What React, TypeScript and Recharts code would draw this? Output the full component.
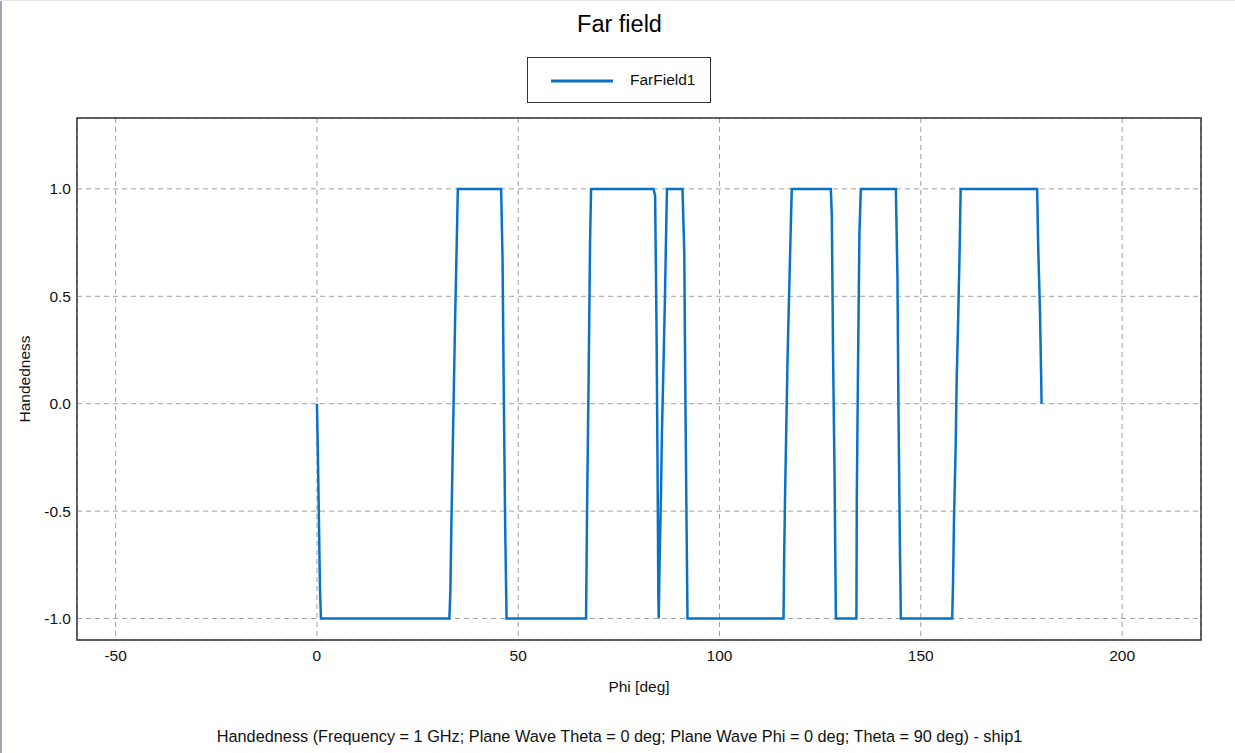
import React from 'react';
import {
  LineChart,
  Line,
  XAxis,
  YAxis,
  CartesianGrid,
  Legend,
  ReferenceArea,
} from 'recharts';

// Phi samples (deg) and handedness
const phiDeg = [
  0, 0.25, 0.5, 0.75, 1,
  32.9, 33.15, 33.4, 33.7, 34.0, 34.3, 34.65, 35.0,
  45.75, 46.1, 46.4, 46.75, 47.1,
  66.85, 67.1, 67.5, 67.85, 68.1,
  83.6, 84.0, 84.35, 84.6, 84.8, 84.9, 85.1, 85.45, 85.7, 86.1, 86.45, 86.75, 86.95,
  90.8, 91.25, 91.5, 91.8, 92.05,
  115.9, 116.05, 116.3, 116.6, 116.9, 117.3, 117.7, 117.95,
  127.65, 127.9, 128.2, 128.6, 128.9,
  134.0, 134.1, 134.4, 134.75, 135.1,
  143.8, 144.2, 144.45, 144.8, 145.05,
  157.8, 158.0, 158.25, 158.65, 158.9, 159.3, 159.65, 159.9,
  178.9, 179.15, 179.6, 179.9, 180,
];

const handedness = [
  0, -0.25, -0.55, -0.86, -1,
  -1, -0.87, -0.56, -0.25, 0.06, 0.37, 0.68, 1,
  1, 0.68, 0.07, -0.56, -1,
  -1, -0.49, 0.14, 0.76, 1,
  1, 0.97, 0.36, -0.27, -0.88, -1, -0.75, -0.43, -0.13, 0.19, 0.5, 0.81, 1,
  1, 0.7, 0.08, -0.54, -1,
  -1, -0.72, -0.41, -0.1, 0.21, 0.52, 0.82, 1,
  1, 0.87, 0.24, -0.38, -1,
  -1, -0.45, 0.17, 0.79, 1,
  1, 0.59, -0.03, -0.65, -1,
  -1, -0.84, -0.53, -0.21, 0.1, 0.41, 0.72, 1,
  1, 0.74, 0.43, 0.12, 0,
];

const xTicks = [-50, 0, 50, 100, 150, 200];
const yTicks = [-1, -0.5, 0, 0.5, 1];
const xDomain = [-59.6, 219.6];
const yDomain = [-1.1, 1.33];

const data = phiDeg.map((phi, i) => ({ phi, FarField1: handedness[i] }));

const FONT = '"Liberation Sans", Arial, sans-serif';
const LINE_COLOR = '#0a72c6';

const renderLegend = (props: any) => {
  const item = props.payload && props.payload[0];
  return (
    <div
      style={{
        width: 184,
        height: 46,
        boxSizing: 'border-box',
        border: '1.5px solid #333',
        background: '#fff',
        position: 'relative',
        fontFamily: FONT,
      }}
    >
      <svg width={70} height={10} style={{ position: 'absolute', left: 22, top: 18 }}>
        <line x1={1} y1={5} x2={63} y2={5} stroke={item ? item.color : LINE_COLOR} strokeWidth={3} />
      </svg>
      <span
        style={{
          position: 'absolute',
          left: 102,
          top: 13,
          fontSize: 15.5,
          color: '#111',
          lineHeight: '18px',
        }}
      >
        {item ? item.value : 'FarField1'}
      </span>
    </div>
  );
};

export default function App() {
  return (
    <div
      style={{
        position: 'absolute',
        left: 0,
        top: 0,
        width: 1235,
        height: 753,
        background: '#fff',
        fontFamily: FONT,
        overflow: 'hidden',
      }}
    >
      <div style={{ position: 'absolute', left: 0, top: 0, width: 2, height: 753, background: '#a3a3b4' }} />
      <div style={{ position: 'absolute', left: 0, top: 0, width: 1235, height: 1, background: '#e6e6e6' }} />
      <div
        style={{
          position: 'absolute',
          left: 0,
          top: 13,
          width: 1239,
          textAlign: 'center',
          fontSize: 23.5,
          lineHeight: '23px',
          color: '#000',
        }}
      >
        Far field
      </div>

      <LineChart
        width={1235}
        height={753}
        data={data}
        margin={{ top: 118, right: 34, bottom: 53, left: 17 }}
        style={{ position: 'absolute', left: 0, top: 0 }}
      >
        <CartesianGrid stroke="#a0a0a0" strokeDasharray="5 4" strokeWidth={1} />
        <XAxis
          dataKey="phi"
          type="number"
          domain={xDomain}
          ticks={xTicks}
          allowDataOverflow
          axisLine={false}
          tickLine={false}
          tickSize={0}
          tickMargin={10}
          height={60}
          tick={{ fill: '#111', fontSize: 15.5, fontFamily: FONT }}
          label={{
            value: 'Phi [deg]',
            position: 'insideBottom',
            offset: 8,
            fill: '#111',
            fontSize: 15.5,
            fontFamily: FONT,
          }}
        />
        <YAxis
          type="number"
          domain={yDomain}
          ticks={yTicks}
          allowDataOverflow
          axisLine={false}
          tickLine={false}
          tickSize={0}
          tickMargin={6}
          width={60}
          tickFormatter={(v: number) => v.toFixed(1)}
          tick={{ fill: '#111', fontSize: 15.5, fontFamily: FONT }}
          label={{
            value: 'Handedness',
            angle: -90,
            position: 'center',
            dx: -23,
            fill: '#111',
            fontSize: 15.5,
            fontFamily: FONT,
          }}
        />
        <Legend
          layout="horizontal"
          verticalAlign="middle"
          align="center"
          content={renderLegend}
          wrapperStyle={{ left: 527, top: 57, width: 184, height: 46 }}
        />
        <Line
          type="linear"
          dataKey="FarField1"
          stroke={LINE_COLOR}
          strokeWidth={2.5}
          dot={false}
          activeDot={false}
          isAnimationActive={false}
        />
        <ReferenceArea
          x1={xDomain[0]}
          x2={xDomain[1]}
          y1={yDomain[0]}
          y2={yDomain[1]}
          fill="none"
          stroke="#333"
          strokeWidth={1.5}
          ifOverflow="visible"
        />
      </LineChart>

      <div
        style={{
          position: 'absolute',
          left: 0,
          top: 728,
          width: 1239,
          textAlign: 'center',
          fontSize: 16.3,
          lineHeight: '17px',
          color: '#111',
        }}
      >
        Handedness (Frequency = 1 GHz; Plane Wave Theta = 0 deg; Plane Wave Phi = 0 deg; Theta = 90 deg) - ship1
      </div>
    </div>
  );
}
